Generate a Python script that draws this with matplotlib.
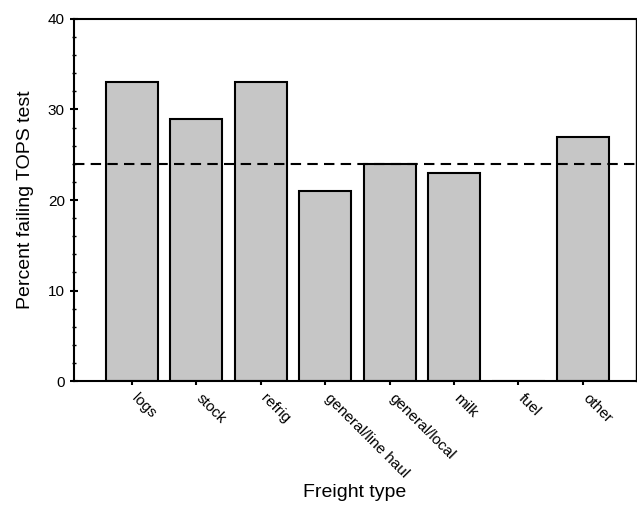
import matplotlib
matplotlib.use("Agg")
import matplotlib.pyplot as plt
import matplotlib.transforms as mtransforms
from matplotlib.ticker import MultipleLocator

plt.rcParams['font.family'] = ['Liberation Sans', 'DejaVu Sans']

freight_types = ["logs", "stock", "refrig", "general/line haul", "general/local",
                 "milk", "fuel", "other"]
percent_failing = [33, 29, 33, 21, 24, 23, 0, 27]
overall_rate = 24

fig = plt.figure(figsize=(6.37, 5.25), dpi=100)
ax = fig.add_axes([0.116, 0.274, 0.882, 0.690])

x = range(len(freight_types))
ax.bar(x, percent_failing, width=0.81, color="#c6c6c6", edgecolor="black",
       linewidth=1.5, zorder=2)
ax.axhline(overall_rate, color="black", linestyle=(0, (5, 3)), linewidth=1.5, zorder=3)

ax.set_xlim(-0.9, 7.82)
ax.set_ylim(0, 40)
ax.yaxis.set_major_locator(MultipleLocator(10))
ax.yaxis.set_minor_locator(MultipleLocator(2))
ax.set_xticks(list(x))
ax.tick_params(axis="y", which="major", direction="inout", length=6, width=1.5, labelsize=11)
ax.tick_params(axis="y", which="minor", direction="inout", length=3, width=1)
ax.tick_params(axis="x", which="major", direction="out", length=3, width=1.5, pad=4)
ax.set_xticklabels(freight_types, rotation=-45, ha="left", va="top",
                   rotation_mode="anchor", fontsize=11)
# nudge rotated labels so they start right at the tick
shift = mtransforms.ScaledTranslation(5 / 72, 0, fig.dpi_scale_trans)
for lbl in ax.get_xticklabels():
    lbl.set_transform(lbl.get_transform() + shift)

for s in ax.spines.values():
    s.set_linewidth(1.5)
ax.spines["right"].set_linewidth(1)

ax.set_ylabel("Percent failing TOPS test", fontsize=14, labelpad=10)
fig.text(0.556, 0.062, "Freight type", fontsize=14, ha="center", va="center")

fig.savefig("out.png", dpi=100)
